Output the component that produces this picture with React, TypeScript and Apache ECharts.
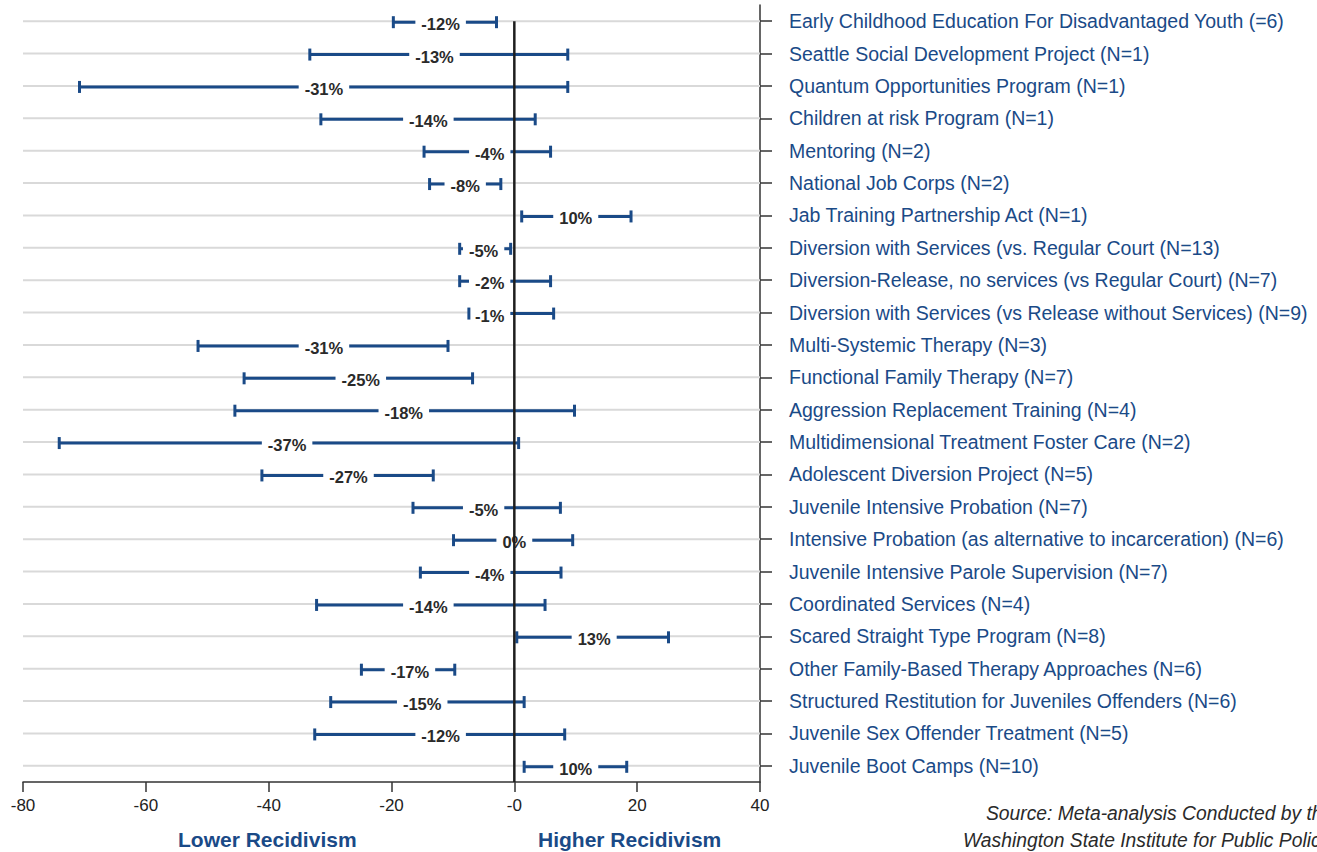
import React, { useEffect, useRef } from "react";
import * as echarts from "echarts";

const categories = [
  "Early Childhood Education For Disadvantaged Youth (=6)",
  "Seattle Social Development Project (N=1)",
  "Quantum Opportunities Program (N=1)",
  "Children at risk Program (N=1)",
  "Mentoring (N=2)",
  "National Job Corps (N=2)",
  "Jab Training Partnership Act (N=1)",
  "Diversion with Services (vs. Regular Court (N=13)",
  "Diversion-Release, no services (vs Regular Court) (N=7)",
  "Diversion with Services (vs Release without Services) (N=9)",
  "Multi-Systemic Therapy (N=3)",
  "Functional Family Therapy (N=7)",
  "Aggression Replacement Training (N=4)",
  "Multidimensional Treatment Foster Care (N=2)",
  "Adolescent Diversion Project (N=5)",
  "Juvenile Intensive Probation (N=7)",
  "Intensive Probation (as alternative to incarceration) (N=6)",
  "Juvenile Intensive Parole Supervision (N=7)",
  "Coordinated Services (N=4)",
  "Scared Straight Type Program (N=8)",
  "Other Family-Based Therapy Approaches (N=6)",
  "Structured Restitution for Juveniles Offenders (N=6)",
  "Juvenile Sex Offender Treatment (N=5)",
  "Juvenile Boot Camps (N=10)",
];

const lows = [
  -19.7, -33.3, -70.8, -31.5, -14.7, -13.8, 1.2, -8.9, -8.9, -7.4, -51.5, -44.0,
  -45.5, -74.1, -41.1, -16.5, -9.9, -15.3, -32.2, 0.4, -24.9, -29.9, -32.5, 1.6,
];

const highs = [
  -2.9, 8.7, 8.7, 3.4, 5.9, -2.2, 19.0, -0.6, 5.9, 6.4, -10.8, -6.8, 9.8, 0.7,
  -13.2, 7.5, 9.5, 7.6, 5.0, 25.1, -9.7, 1.6, 8.2, 18.3,
];

const estimates = [
  -12, -13, -31, -14, -4, -8, 10, -5, -2, -1, -31, -25, -18, -37, -27, -5, 0, -4,
  -14, 13, -17, -15, -12, 10,
];

const xMin = -80;
const xMax = 40;
const xInterval = 20;

const BLUE = "#1a4a87";
const LABEL_FONT = 'bold 16.5px "Liberation Sans", Arial, sans-serif';

let measureCtx: CanvasRenderingContext2D | null = null;
function textWidth(text: string, font: string): number {
  if (!measureCtx) {
    const c = document.createElement("canvas");
    measureCtx = c.getContext("2d");
  }
  if (!measureCtx) return text.length * 9;
  measureCtx.font = font;
  return measureCtx.measureText(text).width;
}

export default function App() {
  const ref = useRef<HTMLDivElement>(null);

  useEffect(() => {
    if (!ref.current) return;
    const chart = echarts.init(ref.current, null, { renderer: "svg" });

    const barData = categories.map((_, i) => [lows[i], i, highs[i], estimates[i]]);
    const gridData = categories.map((_, i) => [xMin, i]);

    const option: any = {
      animation: false,
      backgroundColor: "#ffffff",
      grid: {
        left: 23,
        right: 557,
        top: 5,
        bottom: 70,
        containLabel: false,
        outerBoundsMode: "none",
      },
      xAxis: {
        type: "value",
        min: xMin,
        max: xMax,
        interval: xInterval,
        axisLine: { show: true, onZero: false, lineStyle: { color: "#333", width: 1.5 } },
        axisTick: { show: true, length: 10, lineStyle: { color: "#333", width: 1.5 } },
        splitLine: { show: false },
        axisLabel: {
          color: "#222",
          fontSize: 17,
          fontFamily: '"Liberation Sans", Arial, sans-serif',
          margin: 15,
          formatter: (v: number) => (v === 0 ? "-0" : String(v)),
        },
      },
      yAxis: {
        type: "category",
        data: categories,
        inverse: true,
        position: "right",
        axisLine: { show: true, onZero: false, lineStyle: { color: "#333", width: 1.5 } },
        axisTick: {
          show: true,
          alignWithLabel: true,
          length: 12,
          lineStyle: { color: "#333", width: 1.5 },
        },
        splitLine: { show: false },
        axisLabel: {
          color: BLUE,
          fontSize: 19.5,
          fontFamily: '"Liberation Sans", Arial, sans-serif',
          margin: 29,
          interval: 0,
        },
      },
      series: [
        {
          type: "custom",
          name: "grid",
          z: 1,
          silent: true,
          data: gridData,
          encode: { x: 0, y: 1 },
          renderItem: (params: any, api: any) => {
            const i = api.value(1);
            const p0 = api.coord([xMin, i]);
            const p1 = api.coord([xMax, i]);
            return {
              type: "line",
              shape: { x1: p0[0], y1: p0[1], x2: p1[0], y2: p1[1] },
              style: { stroke: "#d9d9d9", lineWidth: 2 },
            };
          },
        },
        {
          type: "custom",
          name: "effect",
          z: 3,
          data: barData,
          encode: { x: [0, 2], y: 1 },
          renderItem: (params: any, api: any) => {
            const lo = api.value(0);
            const i = api.value(1);
            const hi = api.value(2);
            const est = api.value(3);
            const pl = api.coord([lo, i]);
            const ph = api.coord([hi, i]);
            const pe = api.coord([est, i]);
            const pz = api.coord([0, i]);
            const y = pl[1] + 1;
            const cap = 6;
            const label = `${est}%`;
            const w = textWidth(label, LABEL_FONT);
            const pad = 6;
            let cx = pe[0];
            if (est < 0 && cx + w / 2 + pad > pz[0] - 1) {
              cx = pz[0] - 10 - w / 2;
            }
            return {
              type: "group",
              children: [
                {
                  type: "line",
                  shape: { x1: pl[0], y1: y, x2: ph[0], y2: y },
                  style: { stroke: BLUE, lineWidth: 3 },
                },
                {
                  type: "text",
                  style: {
                    text: label,
                    x: cx,
                    y: y + 2,
                    align: "center",
                    verticalAlign: "middle",
                    font: LABEL_FONT,
                    fill: "#2a2a2a",
                    backgroundColor: "#ffffff",
                    padding: [1, pad, 1, pad],
                  },
                },
                {
                  type: "line",
                  shape: { x1: pl[0], y1: y - cap, x2: pl[0], y2: y + cap },
                  style: { stroke: BLUE, lineWidth: 3 },
                },
                {
                  type: "line",
                  shape: { x1: ph[0], y1: y - cap, x2: ph[0], y2: y + cap },
                  style: { stroke: BLUE, lineWidth: 3 },
                },
              ],
            };
          },
        },
        {
          type: "custom",
          name: "zero",
          z: 5,
          silent: true,
          data: [[0, 0]],
          encode: { x: 0, y: 1 },
          renderItem: (params: any, api: any) => {
            const p = api.coord([0, 0]);
            const bottom = params.coordSys.y + params.coordSys.height;
            return {
              type: "line",
              shape: { x1: p[0], y1: p[1], x2: p[0], y2: bottom },
              style: { stroke: "#1e1e1e", lineWidth: 2.5 },
            };
          },
        },
      ],
      graphic: [
        {
          type: "text",
          left: 178,
          top: 829,
          style: {
            text: "Lower Recidivism",
            font: 'bold 21px "Liberation Sans", Arial, sans-serif',
            fill: BLUE,
          },
        },
        {
          type: "text",
          left: 538,
          top: 829,
          style: {
            text: "Higher Recidivism",
            font: 'bold 21px "Liberation Sans", Arial, sans-serif',
            fill: BLUE,
          },
        },
        {
          type: "text",
          x: 986,
          y: 804,
          style: {
            text: "Source: Meta-analysis Conducted by the",
            font: 'italic 19.3px "Liberation Sans", Arial, sans-serif',
            fill: "#2a2a2a",
          },
        },
        {
          type: "text",
          x: 963,
          y: 831,
          style: {
            text: "Washington State Institute for Public Policy",
            font: 'italic 19.3px "Liberation Sans", Arial, sans-serif',
            fill: "#2a2a2a",
          },
        },
      ],
    };

    chart.setOption(option);
    return () => {
      chart.dispose();
    };
  }, []);

  return (
    <div
      ref={ref}
      style={{ position: "fixed", left: 0, top: 0, width: 1317, height: 852 }}
    />
  );
}
